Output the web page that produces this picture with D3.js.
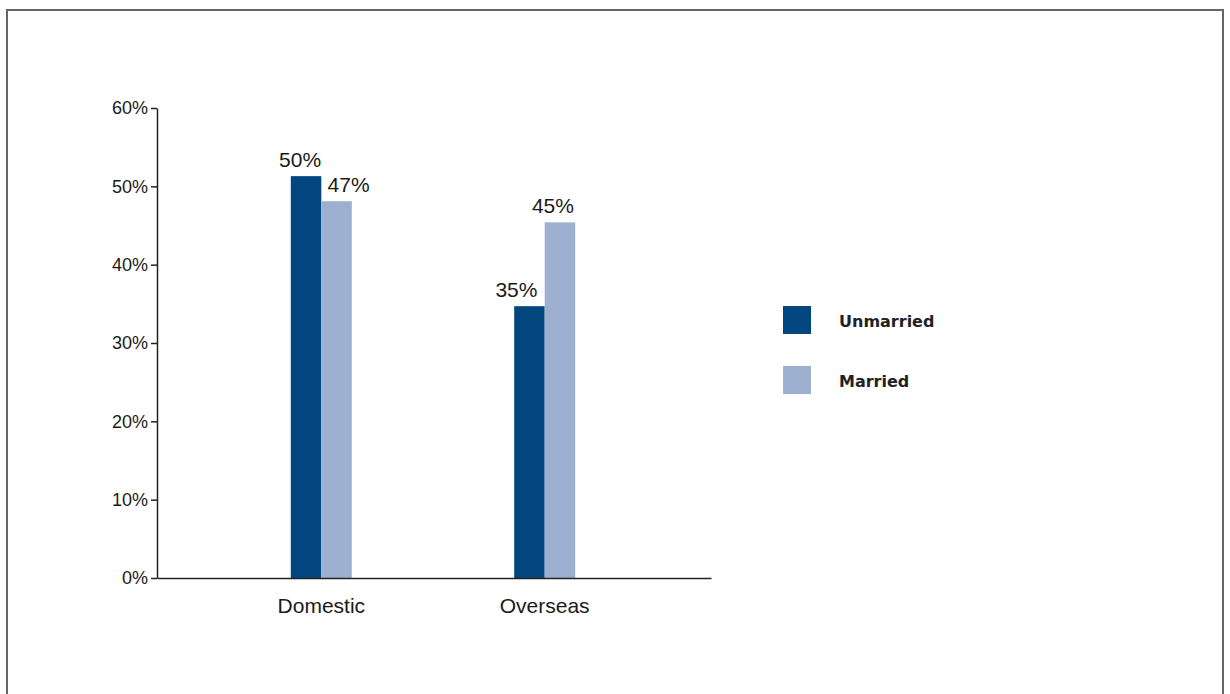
<!DOCTYPE html>
<html>
<head>
	<meta charset="utf-8"/>
	<script src="https://cdn.jsdelivr.net/npm/d3@7"></script>
	<style type="text/css">
		body { margin: 0; background: #fff; }
		svg { display: block; }
	</style>
</head>
<body>
	<svg id="chart" width="1230" height="694"></svg>
	<script type="text/javascript">
		// data
		var categories = ["Domestic", "Overseas"];
		var seriesNames = ["Unmarried", "Married"];
		var unmarried = [51.3, 34.7];
		var married = [48.1, 45.4];
		var unmarriedLabels = ["50%", "35%"];
		var marriedLabels = ["47%", "45%"];
		var yTicks = [0, 10, 20, 30, 40, 50, 60];
		var colors = ["#02467f", "#9db0cf"];

		// hand placed label nudges, as in the original
		var unmarriedNudge = [-6, -13];
		var marriedNudge = [12, -7];

		var svg = d3.select("#chart");

		// frame
		svg.append("path")
			.attr("d", "M7,694 V10 H1223 V694")
			.attr("fill", "none")
			.attr("stroke", "#666")
			.attr("stroke-width", 2);

		var x = d3.scalePoint().domain(categories).range([156, 710]).padding(0.74);
		var y = d3.scaleLinear().domain([0, 60]).range([578, 108]);
		var barW = 30.5;

		var series = [
			{ name: seriesNames[0], values: unmarried, labels: unmarriedLabels, nudge: unmarriedNudge, color: colors[0], off: -1 },
			{ name: seriesNames[1], values: married, labels: marriedLabels, nudge: marriedNudge, color: colors[1], off: 0 }
		];

		series.forEach(function(s) {
			var g = svg.append("g");
			g.selectAll("rect").data(categories).enter()
				.append("rect")
				.attr("x", function(d) { return x(d) + s.off * barW; })
				.attr("y", function(d, i) { return y(s.values[i]); })
				.attr("width", barW)
				.attr("height", function(d, i) { return y(0) - y(s.values[i]); })
				.attr("fill", s.color);
			g.selectAll("text").data(categories).enter()
				.append("text")
				.attr("x", function(d, i) { return x(d) + s.off * barW + barW / 2 + s.nudge[i]; })
				.attr("y", function(d, i) { return y(s.values[i]) - 9; })
				.attr("text-anchor", "middle")
				.style("font-family", "Liberation Sans, Arial, sans-serif")
				.style("font-size", "21px")
				.style("fill", "#1a1a1a")
				.text(function(d, i) { return s.labels[i]; });
		});

		// y axis
		var yAxis = svg.append("g")
			.attr("transform", "translate(157,0)")
			.call(d3.axisLeft(y).tickValues(yTicks).tickFormat(function(d) { return d + "%"; })
				.tickSize(6).tickPadding(3).tickSizeOuter(0));
		yAxis.select(".domain").attr("stroke", "#222").attr("stroke-width", 1.5);
		yAxis.selectAll(".tick line").attr("stroke", "#222").attr("stroke-width", 1.5);
		yAxis.selectAll(".tick text")
			.style("font-family", "Liberation Sans, Arial, sans-serif")
			.style("font-size", "18px")
			.style("fill", "#1a1a1a");

		// x axis
		var xAxis = svg.append("g")
			.attr("transform", "translate(0,578)")
			.call(d3.axisBottom(x.copy().range([157, 711])).tickSize(0).tickPadding(20).tickSizeOuter(0));
		xAxis.selectAll(".tick").attr("transform", function(d) { return "translate(" + x(d) + ",0)"; });
		xAxis.select(".domain").attr("stroke", "#222").attr("stroke-width", 1.5);
		xAxis.selectAll(".tick text")
			.style("font-family", "Liberation Sans, Arial, sans-serif")
			.style("font-size", "21px")
			.style("fill", "#1a1a1a");

		// legend
		var legend = svg.append("g").selectAll("g").data(series).enter()
			.append("g")
			.attr("transform", function(d, i) { return "translate(783," + (306 + i * 60) + ")"; });
		legend.append("rect")
			.attr("width", 28).attr("height", 28)
			.attr("fill", function(d) { return d.color; });
		legend.append("text")
			.attr("x", 56).attr("y", 21)
			.style("font-family", "DejaVu Sans, sans-serif")
			.style("font-weight", "bold")
			.style("font-size", "16px")
			.style("fill", "#222")
			.text(function(d) { return d.name; });
	</script>
</body>
</html>
